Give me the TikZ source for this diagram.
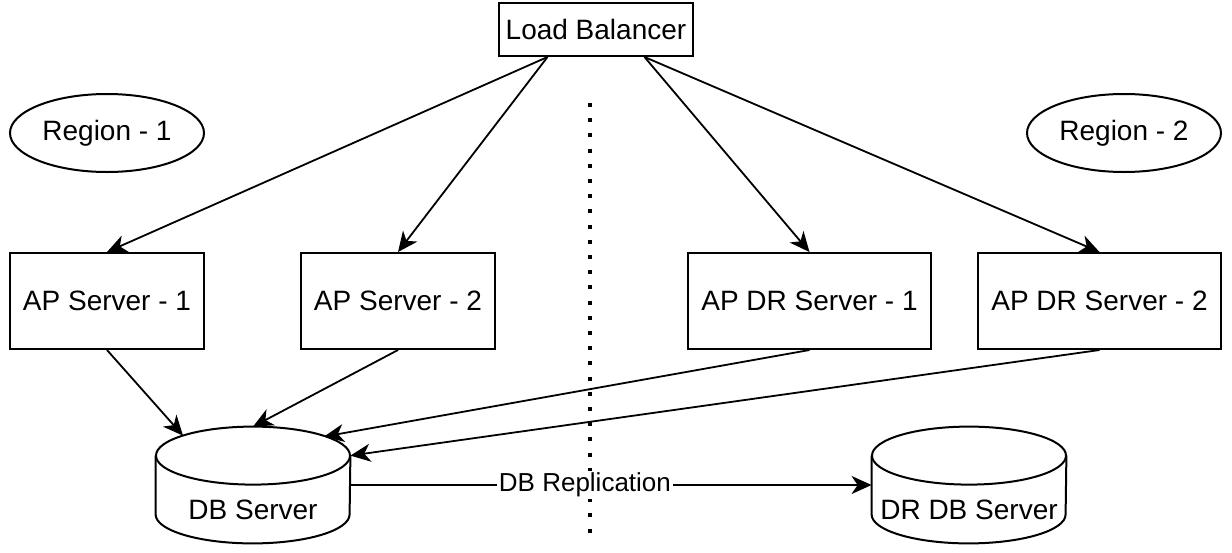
\documentclass[tikz,border=0pt]{standalone}
\usepackage{fontspec}
\setmainfont{Liberation Sans}
\usetikzlibrary{shapes.geometric,arrows.meta}

\tikzset{
  box/.style={draw,line width=1pt,inner sep=0pt,minimum height=48pt,
    font=\fontsize{14}{16}\selectfont},
  region/.style={draw,ellipse,line width=1pt,inner sep=0pt,
    minimum width=97pt,minimum height=39pt,font=\fontsize{14}{16}\selectfont},
  dbcyl/.style={inner sep=0pt,minimum width=97pt,minimum height=58pt},
  dbtext/.style={font=\fontsize{14}{16}\selectfont},
  link/.style={line width=0.9pt,-{Stealth[length=10pt,width=9pt,inset=3pt]}},
}

\begin{document}
\begin{tikzpicture}[x=0.5pt,y=-0.5pt]
\useasboundingbox (0,0) rectangle (1232,552);

% top
\node[box,minimum width=97pt,minimum height=26.5pt] (lb) at (596,29.5) {Load Balancer};
\node[region] (reg1) at (107,133) {Region - 1};
\node[region] (reg2) at (1124,133) {Region - 2};

% application servers
\node[box,minimum width=97pt] (ap1) at (107,301) {AP Server - 1};
\node[box,minimum width=97pt] (ap2) at (398,301) {AP Server - 2};
\node[box,minimum width=121.5pt] (dr1) at (809.5,301) {AP DR Server - 1};
\node[box,minimum width=121.5pt] (dr2) at (1099.5,301) {AP DR Server - 2};

% databases
\node[dbcyl,label={[dbtext,yshift=-12.5pt]center:DB Server}] (db) at (253,485) {};
\node[dbcyl,label={[dbtext,yshift=-12.5pt]center:DR DB Server}] (drdb) at (969,485) {};
\foreach \n in {db,drdb} {
  \draw[line width=1pt] ([shift={(0,29)}]\n.north) ellipse [x radius=97,y radius=29];
  \draw[line width=1pt] ([shift={(0,29)}]\n.north west) -- ([shift={(0,-29)}]\n.south west)
    arc [start angle=180,end angle=0,x radius=97,y radius=29]
    -- ([shift={(0,29)}]\n.north east);
}

% region separator
\draw[line width=2pt,dash pattern=on 2pt off 5.6pt] (590,103) -- (590,540);

% connectors
\draw[link] ([xshift=-24.25pt]lb.south) -- (ap1.north);
\draw[link] ([xshift=-24.25pt]lb.south) -- (ap2.north);
\draw[link] ([xshift=24.25pt]lb.south) -- (dr1.north);
\draw[link] ([xshift=24.25pt]lb.south) -- (dr2.north);
\draw[link] (ap1.south) -- ([shift={(-70,9)}]db.north);
\draw[link] (ap2.south) -- (db.north);
\draw[link] (dr1.south) -- ([shift={(71,10)}]db.north);
\draw[link] (dr2.south) -- ([shift={(0,29)}]db.north east);
\draw[link] (db.east) -- node[pos=0.45,fill=white,inner sep=1pt,
  font=\fontsize{13}{15}\selectfont] {DB Replication} (drdb.west);
\end{tikzpicture}
\end{document}
